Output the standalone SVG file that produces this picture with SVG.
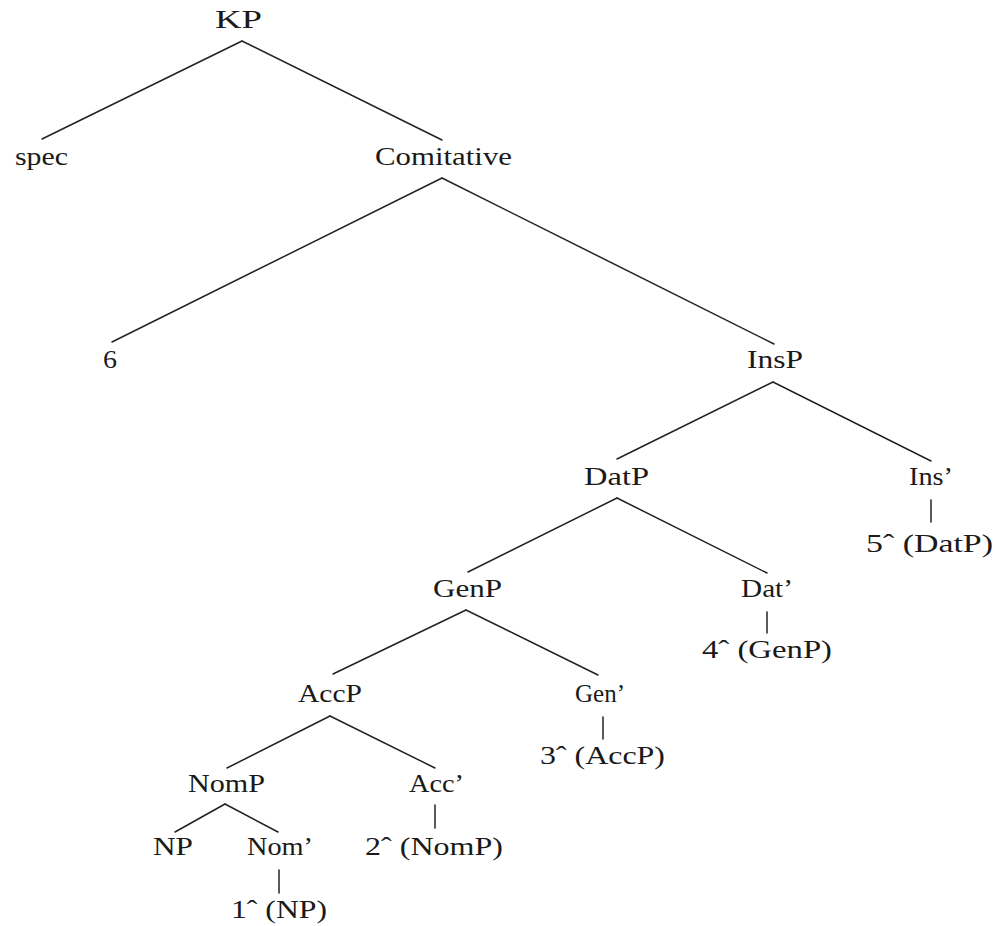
<svg xmlns="http://www.w3.org/2000/svg" width="995" height="926" viewBox="0 0 995 926">
<style>
  text { font-family: "Liberation Serif", "DejaVu Serif", serif; font-size: 26px; fill: #1a1a1a; }
  .edge { stroke: #222; stroke-width: 1.5; fill: none; stroke-linecap: round; }
</style>
<rect width="995" height="926" fill="#ffffff"/>
<g id="connectors">
  <line class="edge" x1="242" y1="41" x2="42" y2="139"/>
  <line class="edge" x1="242" y1="41" x2="442" y2="140"/>
  <line class="edge" x1="442" y1="178" x2="112" y2="342"/>
  <line class="edge" x1="442" y1="178" x2="774" y2="344"/>
  <line class="edge" x1="773" y1="382" x2="617" y2="459"/>
  <line class="edge" x1="773" y1="382" x2="931" y2="461"/>
  <line class="edge" x1="931" y1="500" x2="931" y2="522"/>
  <line class="edge" x1="617" y1="498" x2="468" y2="572"/>
  <line class="edge" x1="617" y1="498" x2="767" y2="573"/>
  <line class="edge" x1="767" y1="612" x2="767" y2="633"/>
  <line class="edge" x1="466" y1="610" x2="333" y2="674"/>
  <line class="edge" x1="466" y1="610" x2="598" y2="675"/>
  <line class="edge" x1="603" y1="717" x2="603" y2="739"/>
  <line class="edge" x1="330" y1="716" x2="227" y2="768"/>
  <line class="edge" x1="330" y1="716" x2="435" y2="768"/>
  <line class="edge" x1="435" y1="805" x2="435" y2="828"/>
  <line class="edge" x1="225" y1="804" x2="175" y2="832"/>
  <line class="edge" x1="225" y1="804" x2="278" y2="832"/>
  <line class="edge" x1="279" y1="870" x2="279" y2="893"/>
</g>
<g id="n-KP"><text x="215" y="28" textLength="47" lengthAdjust="spacingAndGlyphs">KP</text></g>
<g id="n-spec"><text x="15" y="165" textLength="53" lengthAdjust="spacingAndGlyphs">spec</text></g>
<g id="n-Comitative"><text x="375" y="165" textLength="137" lengthAdjust="spacingAndGlyphs">Comitative</text></g>
<g id="n-6"><text x="103" y="368" textLength="14" lengthAdjust="spacingAndGlyphs">6</text></g>
<g id="n-InsP"><text x="747" y="368" textLength="56" lengthAdjust="spacingAndGlyphs">InsP</text></g>
<g id="n-DatP"><text x="584" y="485" textLength="65" lengthAdjust="spacingAndGlyphs">DatP</text></g>
<g id="n-Ins1"><text x="909" y="485" textLength="44" lengthAdjust="spacingAndGlyphs">Ins’</text></g>
<g id="n-5"><text x="866" y="552" textLength="127" lengthAdjust="spacingAndGlyphs">5ˆ (DatP)</text></g>
<g id="n-GenP"><text x="433" y="597" textLength="69" lengthAdjust="spacingAndGlyphs">GenP</text></g>
<g id="n-Dat1"><text x="741" y="597" textLength="52" lengthAdjust="spacingAndGlyphs">Dat’</text></g>
<g id="n-4"><text x="702" y="658" textLength="130" lengthAdjust="spacingAndGlyphs">4ˆ (GenP)</text></g>
<g id="n-AccP"><text x="298" y="702" textLength="64" lengthAdjust="spacingAndGlyphs">AccP</text></g>
<g id="n-Gen1"><text x="575" y="702" textLength="50" lengthAdjust="spacingAndGlyphs">Gen’</text></g>
<g id="n-3"><text x="540" y="764" textLength="125" lengthAdjust="spacingAndGlyphs">3ˆ (AccP)</text></g>
<g id="n-NomP"><text x="188" y="792" textLength="77" lengthAdjust="spacingAndGlyphs">NomP</text></g>
<g id="n-Acc1"><text x="409" y="792" textLength="55" lengthAdjust="spacingAndGlyphs">Acc’</text></g>
<g id="n-2"><text x="365" y="855" textLength="138" lengthAdjust="spacingAndGlyphs">2ˆ (NomP)</text></g>
<g id="n-NP"><text x="153" y="855" textLength="40" lengthAdjust="spacingAndGlyphs">NP</text></g>
<g id="n-Nom1"><text x="247" y="855" textLength="66" lengthAdjust="spacingAndGlyphs">Nom’</text></g>
<g id="n-1"><text x="231" y="918" textLength="96" lengthAdjust="spacingAndGlyphs">1ˆ (NP)</text></g>
</svg>
